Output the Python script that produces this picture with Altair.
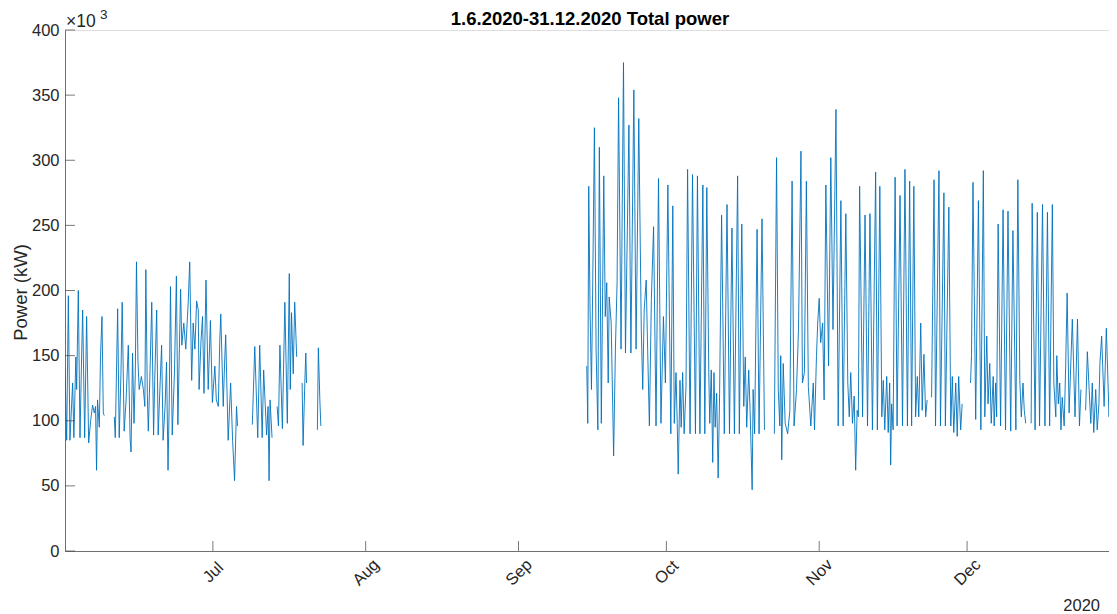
import altair as alt
import pandas as pd

# Line vertices.
# day: days after 2020-06-01 00:00 ; power: kW (x 10^3) ; None marks a gap in the record
day = [
    0.0, 0.34, 0.68, 1.0, 1.55, 1.8, 2.2, 2.36, 2.7, 3.04, 3.3, 3.58, 3.99, 4.39, 4.8, 5.2, 5.6, 5.95, 6.2, 6.4, 6.6, 6.96, 7.2, 7.5, 7.77, 7.97, None,
    10.0, 10.2, 10.68, 11.0, 11.35, 11.6, 12.0, 12.4, 12.84, 13.2, 13.4, 13.7, 14.0, 14.26, 14.5, 14.8, 15.05, 15.5, 15.9, 16.2, 16.4, 16.7, 16.9, 17.2, 17.6, 17.97, 18.2, 18.6, 18.9, 19.3, 19.6, 19.9, 20.3, 20.6, 20.9, 21.15, 21.4, 21.75, 22.2, 22.6, 22.9, 23.2, 23.45, 23.7, 24.1, 24.5, 25.0, 25.3, 25.7, 26.0, 26.35, 26.7, 27.03, 27.2, 27.6, 27.9, 28.2, 28.6, 29.05, 29.5, 29.9, 30.4, 30.7, 31.1, 31.4, 31.6, 32.1, 32.36, 32.6, 33.1, 33.6, 34.0, 34.4, 34.8, 35.0, None,
    38.0, 38.5, 39.1, 39.5, 40.0, 40.3, 40.9, 41.2, 41.4, 41.6, 42.0, None,
    43.04, 43.3, 43.6, 44.1, 44.6, 45.1, 45.5, 45.7, 45.95, 46.3, 46.6, 47.0, None,
    48.1, 48.3, 48.65, 48.85, 49.0, None,
    51.2, 51.4, 51.7, 51.9, None,
    105.85, 106.05, 106.25, 106.5, 106.8, 107.06, 107.4, 107.74, 108.1, 108.4, 108.8, 109.3, 109.6, 109.9, 110.2, 110.4, 110.8, 111.3, 111.66, 112.0, 112.3, 112.8, 113.3, 113.7, 114.4, 114.8, 115.4, 115.85, 116.4, 116.9, 117.2, 117.5, 117.9, 118.2, 118.55, 118.95, 119.4, 119.9, 120.4, 120.9, 121.4, 121.8, 122.3, 122.9, 123.3, 123.6, 123.95, 124.2, 124.4, 124.76, 125.0, 125.3, 125.6, 125.98, 126.3, 126.8, 127.3, 127.9, 128.3, 128.8, 129.4, 129.8, 130.2, 130.6, 130.8, 131.1, 131.4, 131.65, 131.9, 132.2, 132.5, 132.8, 133.2, 133.75, 134.3, 134.8, 135.3, 135.8, 136.45, 136.8, 137.3, 137.7, 138.0, 138.3, 138.7, 139.0, 139.4, 139.6, 139.9, 140.4, 140.8, 141.4, 141.9, None,
    143.9, 144.35, 144.7, 145.0, 145.2, 145.4, 145.7, 146.1, 146.6, 147.05, 147.5, 147.9, 148.4, 148.8, 149.3, 149.6, 150.0, 150.4, 150.8, 151.3, 151.8, 152.05, 152.45, 152.7, 153.0, 153.3, 153.7, 154.0, 154.35, 154.9, 155.36, 155.8, 156.4, 156.85, 157.4, 157.86, 158.4, 158.8, 159.1, 159.4, 159.75, 160.1, 160.4, 160.7, 160.95, 161.2, 161.8, 162.3, 162.8, 163.3, 163.8, 164.45, 164.8, 165.3, 165.7, 166.0, 166.3, 166.7, 167.0, 167.3, 167.5, 167.7, 168.0, 168.4, 168.8, 169.4, 169.9, 170.4, 170.9, 171.35, 171.75, 172.2, 172.56, 172.9, 173.2, 173.6, 173.9, 174.25, 174.6, 174.9, None,
    175.8, 176.3, 176.6, 177.3, 177.6, 178.3, 178.6, 179.3, 179.7, 180.0, 180.3, 180.7, 181.0, 181.3, 181.7, 182.0, None,
    183.7, 183.9, 184.2, 184.75, 185.3, 185.8, 186.3, 186.6, 187.0, 187.25, 187.6, 187.9, 188.3, 188.5, 188.8, 189.0, 189.3, 189.8, 190.3, 190.8, 191.3, 191.85, 192.3, 192.9, 193.3, 193.7, 194.0, 194.35, 194.6, 194.9, None,
    196.0, 196.2, 196.8, 197.25, 197.7, 198.3, 198.8, 199.3, 199.75, 200.3, 200.6, 201.0, 201.2, 201.5, 201.8, 202.05, 202.3, 202.7, 203.0, 203.3, 203.7, 204.35, 204.9, 205.4, 205.8, 206.1, None,
    207.05, 207.4, 207.7, 208.1, 208.4, 208.7, 209.1, 209.4, 209.75, 209.95, 210.3, 210.8, 211.25, 211.8, 212.3, 212.8,
]
power = [
    140, 85, 196, 85, 129, 87, 149, 124, 200, 87, 136, 185, 87, 180, 83, 100, 112, 106, 111, 62, 116, 95, 149, 180, 106, 104, None,
    103, 87, 186, 87, 136, 191, 92, 116, 158, 87, 76, 152, 98, 136, 222, 146, 124, 134, 124, 111, 216, 121, 92, 131, 191, 89, 131, 185, 89, 129, 158, 85, 111, 145, 62, 116, 203, 89, 136, 211, 97, 155, 201, 158, 175, 155, 191, 222, 131, 175, 155, 192, 185, 124, 162, 180, 121, 208, 124, 177, 114, 142, 116, 111, 162, 182, 111, 142, 166, 85, 129, 85, 54, 111, 96, None,
    97, 157, 87, 158, 87, 139, 89, 111, 54, 116, 87, None,
    111, 96, 158, 94, 191, 98, 213, 124, 183, 136, 191, 149, None,
    129, 81, 129, 152, 129, None,
    93, 156, 116, 96, None,
    142, 98, 280, 190, 124, 206, 325, 155, 93, 310, 98, 288, 180, 206, 129, 195, 175, 73, 155, 206, 348, 155, 375, 152, 327, 152, 354, 155, 332, 172, 124, 185, 208, 155, 96, 193, 249, 96, 286, 98, 180, 129, 281, 90, 265, 98, 137, 98, 59, 131, 95, 137, 90, 126, 293, 90, 289, 90, 288, 90, 281, 90, 279, 137, 98, 139, 68, 137, 95, 121, 56, 121, 258, 90, 266, 90, 248, 90, 288, 90, 251, 111, 149, 95, 139, 106, 47, 124, 90, 247, 90, 255, 93, None,
    90, 302, 124, 96, 150, 70, 144, 98, 90, 108, 284, 96, 124, 170, 307, 129, 137, 284, 126, 96, 129, 93, 150, 175, 194, 160, 175, 116, 281, 142, 302, 170, 339, 96, 269, 96, 259, 129, 103, 137, 98, 119, 62, 108, 103, 280, 103, 258, 96, 259, 93, 291, 93, 280, 103, 131, 93, 134, 91, 129, 66, 113, 93, 287, 96, 273, 96, 293, 96, 284, 96, 280, 103, 134, 103, 175, 108, 151, 103, 116, None,
    118, 285, 96, 292, 96, 275, 96, 264, 96, 134, 91, 129, 88, 134, 93, 113, None,
    129, 150, 283, 101, 269, 93, 292, 103, 165, 113, 144, 98, 134, 96, 129, 103, 251, 96, 262, 93, 261, 92, 246, 93, 285, 131, 103, 129, 108, 98, None,
    98, 267, 93, 260, 96, 266, 96, 260, 96, 266, 129, 103, 150, 113, 129, 93, 118, 96, 142, 198, 106, 178, 103, 178, 96, 124, None,
    108, 153, 129, 98, 129, 91, 124, 93, 113, 144, 165, 111, 171, 103, 172, 98,
]

y_ticks = [0, 50, 100, 150, 200, 250, 300, 350, 400]
tick_months = [7, 8, 9, 10, 11, 12]

title_text = "1.6.2020-31.12.2020 Total power"
y_title = "Power (kW)"
exponent_base = "×10"
exponent_power = "3"
year_label = "2020"

# ---- build table ----
start = pd.Timestamp("2020-06-01")
rows = []
seg = 0
for d, p in zip(day, power):
    if p is None or d is None:
        seg += 1
        continue
    rows.append({"t": (start + pd.Timedelta(days=d)).strftime("%Y-%m-%dT%H:%M:%S"), "p": p, "seg": seg})
df = pd.DataFrame(rows)
ticks_df = pd.DataFrame({"t": ["2020-%02d-01T00:00:00" % m for m in tick_months]})

W, H = 1044, 521
FONT = "Liberation Sans"
TXT = "#262626"
AX = "#404040"

# the page is 1117 px wide: the visible window of the time axis ends late on Dec 29
xscale = alt.Scale(domain=[alt.DateTime(year=2020, month=6, date=1),
                           alt.DateTime(year=2020, month=12, date=29, hours=19)], nice=False)
yscale = alt.Scale(domain=[0, 400], nice=False, zero=False)

xaxis = alt.Axis(
    values=[alt.DateTime(year=2020, month=m, date=1) for m in tick_months],
    format="%b", labelAngle=315, labelAlign="center", labelBaseline="middle",
    labelPadding=21, ticks=False, tickSize=0, grid=False, title=None,
    labelFont=FONT, labelFontSize=16.5, labelColor=TXT, domainColor=AX, domainWidth=0.7,
    labelOverlap=False, labelFlush=False,
)
yaxis = alt.Axis(
    values=y_ticks, ticks=False, tickSize=0, grid=False, labelPadding=6,
    labelFont=FONT, labelFontSize=16.5, labelColor=TXT, domainColor=AX, domainWidth=0.7,
    title=y_title, titleFont=FONT, titleFontSize=18.5, titleFontWeight="normal", titleColor=TXT,
    titleAngle=270, titleX=-45, titleY=262, titleAlign="center", titleBaseline="middle",
    labelFlush=False,
)

X = alt.X("t:T", scale=xscale, axis=xaxis)
Y = alt.Y("p:Q", scale=yscale, axis=yaxis)

line = alt.Chart(df).mark_line(color="#0072BD", strokeWidth=0.9, clip=True).encode(
    x=X, y=Y, detail="seg:N"
)

xt = alt.Chart(ticks_df).mark_rule(color=AX, strokeWidth=0.7).encode(
    x=X, y=alt.value(H - 10), y2=alt.value(H)
)
yt = alt.Chart(pd.DataFrame({"p": y_ticks})).mark_rule(color=AX, strokeWidth=0.7).encode(
    y=Y, x=alt.value(0), x2=alt.value(10)
)

def label(text, x, y, size, align="left", weight="normal"):
    return alt.Chart(pd.DataFrame({"s": [text]})).mark_text(
        font=FONT, fontSize=size, color=TXT if weight == "normal" else "#000000",
        align=align, baseline="alphabetic", fontWeight=weight,
    ).encode(text="s:N", x=alt.value(x), y=alt.value(y))

title = label(title_text, 525, -5, 18.5, align="center", weight="bold")
exp1 = label(exponent_base, 1, -3, 17.5)
exp2 = label(exponent_power, 35, -11, 13.5)
year = label(year_label, 1035, H + 60, 16.5, align="right")

chart = alt.layer(line, xt, yt, title, exp1, exp2, year).properties(
    width=W, height=H,
    padding={"left": 57, "top": 22, "right": 0, "bottom": 63},
    autosize=alt.AutoSizeParams(type="none"),
).configure_view(stroke=None).configure(background="white")

chart.save("out.html", embed_options={"renderer": "svg", "actions": False})
